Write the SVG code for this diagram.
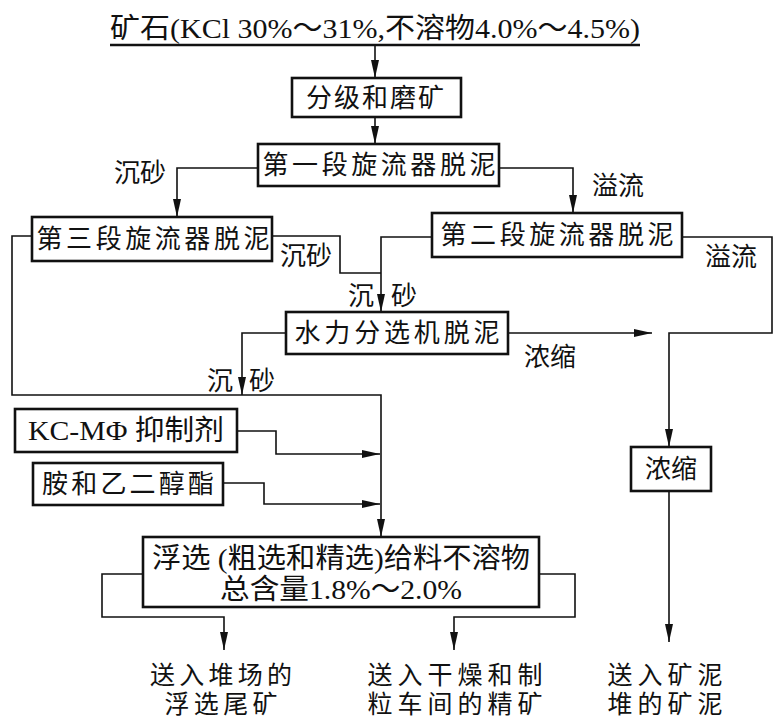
<svg xmlns="http://www.w3.org/2000/svg" width="780" height="726" viewBox="0 0 780 726">
<style>
.box{fill:#fff;stroke:#111;stroke-width:2.6}
.ln{fill:none;stroke:#111;stroke-width:1.6}
.t{font-family:"Noto Sans CJK SC","Liberation Sans",sans-serif;font-size:26px;fill:#111;text-anchor:middle}
.b{font-family:"Liberation Sans","Noto Sans CJK SC",sans-serif;font-size:25px;fill:#111;text-anchor:middle}
.lt{font-family:"Liberation Serif","Noto Sans CJK SC",serif;font-size:28px;fill:#111;text-anchor:middle}
</style>
<defs>
<marker id="ar" markerUnits="userSpaceOnUse" markerWidth="18" markerHeight="8" refX="18" refY="4" orient="auto">
<path d="M0,0 L18,4 L0,8 z" fill="#111"/>
</marker>
</defs>
<g id="title">
<text class="lt" x="375" y="38" textLength="530" lengthAdjust="spacingAndGlyphs">矿石(KCl 30%～31%,不溶物4.0%～4.5%)</text>
<line x1="110" y1="45" x2="640" y2="45" stroke="#111" stroke-width="2.6"/>
</g>
<g id="connectors">
<path class="ln" d="M375,46 V78" marker-end="url(#ar)"/>
<path class="ln" d="M375,117 V144" marker-end="url(#ar)"/>
<path class="ln" d="M258,168 H177 V217" marker-end="url(#ar)"/>
<path class="ln" d="M499,168 H573 V213" marker-end="url(#ar)"/>
<path class="ln" d="M32,236 H12 V395 H381 V537" marker-end="url(#ar)"/>
<path class="ln" d="M272,236 H340 V273 H381"/>
<path class="ln" d="M432,237 H381 V312" marker-end="url(#ar)"/>
<path class="ln" d="M682,237 H772 V333 H669 V447" marker-end="url(#ar)"/>
<path class="ln" d="M508,333 H652" marker-end="url(#ar)"/>
<path class="ln" d="M286,333 H242 V395" marker-end="url(#ar)"/>
<path class="ln" d="M237,431 H276 V454 H380" marker-end="url(#ar)"/>
<path class="ln" d="M223,483 H264 V504 H380" marker-end="url(#ar)"/>
<path class="ln" d="M143,574 H102 V617 H224 V650" marker-end="url(#ar)"/>
<path class="ln" d="M539,574 H575 V617 H454 V650" marker-end="url(#ar)"/>
<path class="ln" d="M669,491 V642" marker-end="url(#ar)"/>
</g>
<g id="labels">
<text class="t" x="140" y="182">沉砂</text>
<text class="t" x="618" y="195">溢流</text>
<text class="t" x="306" y="265">沉砂</text>
<text class="t" x="731" y="266">溢流</text>
<text class="t" x="361" y="305">沉</text>
<text class="t" x="404" y="305">砂</text>
<text class="t" x="550" y="366">浓缩</text>
<text class="t" x="220" y="390">沉</text>
<text class="t" x="262" y="390">砂</text>
</g>
<g id="n1">
<rect class="box" x="292" y="78" width="169" height="39"/>
<text class="t" x="376" y="107" letter-spacing="2">分级和磨矿</text>
</g>
<g id="n2">
<rect class="box" x="258" y="144" width="241" height="42"/>
<text class="t" x="379" y="174" textLength="233">第一段旋流器脱泥</text>
</g>
<g id="n3">
<rect class="box" x="32" y="217" width="240" height="44"/>
<text class="t" x="153" y="248" textLength="233">第三段旋流器脱泥</text>
</g>
<g id="n4">
<rect class="box" x="432" y="213" width="250" height="44"/>
<text class="t" x="557" y="244" textLength="233">第二段旋流器脱泥</text>
</g>
<g id="n5">
<rect class="box" x="286" y="312" width="222" height="42"/>
<text class="t" x="397" y="342" textLength="205">水力分选机脱泥</text>
</g>
<g id="n6">
<rect class="box" x="15" y="409" width="222" height="43"/>
<text class="lt" x="126" y="440" textLength="196" lengthAdjust="spacingAndGlyphs">KC-MΦ 抑制剂</text>
</g>
<g id="n7">
<rect class="box" x="33" y="463" width="190" height="42"/>
<text class="t" x="128" y="493" textLength="172">胺和乙二醇酯</text>
</g>
<g id="n8">
<rect class="box" x="631" y="447" width="80" height="44"/>
<text class="t" x="671" y="478">浓缩</text>
</g>
<g id="n9">
<rect class="box" x="143" y="537" width="396" height="70"/>
<text class="lt" x="341" y="568"><tspan textLength="378" lengthAdjust="spacingAndGlyphs">浮选 (粗选和精选)给料不溶物</tspan><tspan x="341" y="599" textLength="242" lengthAdjust="spacingAndGlyphs">总含量1.8%～2.0%</tspan></text>
</g>
<g id="out1">
<text class="b" x="221" y="684" textLength="142">送入堆场的</text>
<text class="b" x="221" y="713" textLength="113">浮选尾矿</text>
</g>
<g id="out2">
<text class="b" x="455" y="684" textLength="175">送入干燥和制</text>
<text class="b" x="455" y="713" textLength="175">粒车间的精矿</text>
</g>
<g id="out3">
<text class="b" x="665" y="684" textLength="115">送入矿泥</text>
<text class="b" x="665" y="713" textLength="115">堆的矿泥</text>
</g>
</svg>
